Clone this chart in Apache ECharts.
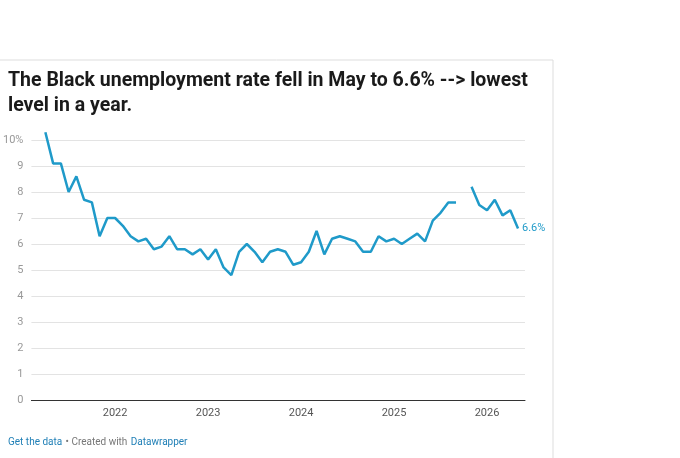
<!DOCTYPE html>
<html>
<head>
<meta charset="utf-8">
<title>chart</title>
<style>
  body { margin: 0; background: #fff; }
  #chart { width: 680px; height: 458px; }
</style>
<script src="https://cdn.jsdelivr.net/npm/echarts@6/dist/echarts.min.js"></script>
</head>
<body>
<div id="chart"></div>
<script>
    // monthly rate, Apr 2021 .. May 2026 (Oct 2025 missing)
    let baseYear = 2021, firstMonthIndex = 3   // x = months since Jan 2021
    let rates = [
        10.3, 9.1, 9.1, 8.0, 8.6, 7.7, 7.6, 6.3, 7.0,          // 2021 Apr-Dec
        7.0, 6.7, 6.3, 6.1, 6.2, 5.8, 5.9, 6.3, 5.8, 5.8, 5.6, 5.8,   // 2022
        5.4, 5.8, 5.1, 4.8, 5.7, 6.0, 5.7, 5.3, 5.7, 5.8, 5.7, 5.2,   // 2023
        5.3, 5.7, 6.5, 5.6, 6.2, 6.3, 6.2, 6.1, 5.7, 5.7, 6.3, 6.1,   // 2024
        6.2, 6.0, 6.2, 6.4, 6.1, 6.9, 7.2, 7.6, 7.6, null, 8.2, 7.5,  // 2025
        7.3, 7.7, 7.1, 7.3, 6.6                                       // 2026
    ]
    let yearTicks = [2022, 2023, 2024, 2025, 2026]

    let data = rates.map(function (v, i) { return [firstMonthIndex + i, v] })
    let yearPos = yearTicks.map(function (y) { return (y - baseYear) * 12 })

    let chart = echarts.init(document.getElementById('chart'))
    chart.setOption({
        animation: false,
        textStyle: { fontFamily: 'Roboto, sans-serif' },
        title: {
            text: 'The Black unemployment rate fell in May to 6.6% --> lowest\nlevel in a year.',
            left: 3, top: 64,
            textStyle: { fontSize: 19.5, fontWeight: 'bold', color: '#1a1a1a', lineHeight: 25, fontFamily: 'Roboto, sans-serif' }
        },
        grid: { left: 28, right: 155, top: 140, bottom: 58, containLabel: false },
        xAxis: {
            type: 'value',
            min: 1.2,
            max: 64.9,
            axisLine: { show: true, onZero: false, lineStyle: { color: '#333', width: 1 } },
            axisTick: { show: false },
            splitLine: { show: false },
            axisLabel: {
                customValues: yearPos,
                formatter: function (v) { return baseYear + Math.round(v / 12) },
                color: '#555', fontSize: 11, margin: 8
            }
        },
        yAxis: {
            type: 'value', min: 0, max: 10, interval: 1,
            axisLine: { show: false },
            axisTick: { show: false },
            splitLine: { lineStyle: { color: '#e3e3e3' } },
            axisLabel: {
                color: '#999', fontSize: 11, margin: 8,
                formatter: function (v) { return v === 10 ? '10%' : v }
            }
        },
        series: [{
            type: 'line',
            data: data,
            clip: false,
            showSymbol: false,
            connectNulls: false,
            lineStyle: { color: '#1f9ac9', width: 2.5 },
            itemStyle: { color: '#1f9ac9' },
            endLabel: {
                show: true, color: '#1f9ac9', fontSize: 11, distance: 4,
                formatter: function (p) { return p.value[1] + '%' }
            }
        }],
        graphic: [
            { type: 'line', shape: { x1: 0, y1: 60, x2: 553, y2: 60 }, style: { stroke: '#ddd', lineWidth: 1 } },
            { type: 'line', shape: { x1: 553, y1: 60, x2: 553, y2: 458 }, style: { stroke: '#ddd', lineWidth: 1 } },
            {
                type: 'text', left: 8, top: 436,
                style: {
                    text: '{a|Get the data} {b|• Created with} {a|Datawrapper}',
                    rich: {
                        a: { fill: '#1f7fb6', fontSize: 10, fontFamily: 'Roboto, sans-serif' },
                        b: { fill: '#777', fontSize: 10, fontFamily: 'Roboto, sans-serif' }
                    }
                }
            }
        ]
    })
</script>
</body>
</html>
